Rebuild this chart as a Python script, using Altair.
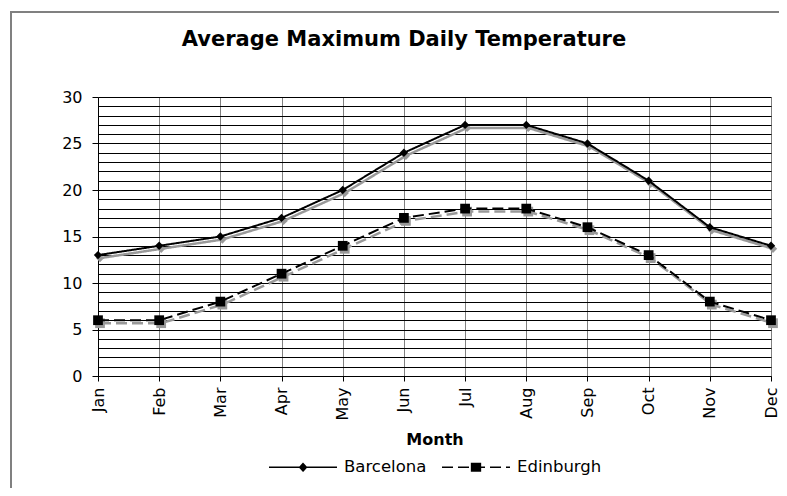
import altair as alt
import pandas as pd

months = ["Jan", "Feb", "Mar", "Apr", "May", "Jun", "Jul", "Aug", "Sep", "Oct", "Nov", "Dec"]
barcelona = [13, 14, 15, 17, 20, 24, 27, 27, 25, 21, 16, 14]
edinburgh = [6, 6, 8, 11, 14, 17, 18, 18, 16, 13, 8, 6]
cities = ["Barcelona", "Edinburgh"]
y_ticks = list(range(0, 31))
title_text = "Average Maximum Daily Temperature"

df = pd.DataFrame({
    "month": months * 2,
    "city": ["Barcelona"] * 12 + ["Edinburgh"] * 12,
    "temp": barcelona + edinburgh,
})

W, H = 673, 279
FONT = "DejaVu Sans"

x = alt.X(
    "month:N", sort=months,
    scale=alt.Scale(type="point", padding=0, domain=months),
    axis=alt.Axis(
        title="Month", titleFont=FONT, titleFontSize=16, titleFontWeight="bold",
        titleColor="black", titlePadding=11,
        labelAngle=-90, labelFont=FONT, labelFontSize=16, labelColor="black",
        labelPadding=6, tickColor="black", tickSize=5, domainColor="black",
        grid=True, gridColor="#808080", gridWidth=1,
    ),
)
y = alt.Y(
    "temp:Q",
    scale=alt.Scale(domain=[0, 30], nice=False),
    axis=alt.Axis(
        title=None, values=y_ticks,
        labelExpr="datum.value % 5 === 0 ? datum.label : ''",
        labelFont=FONT, labelFontSize=16, labelColor="black", labelPadding=10,
        tickColor="black", tickSize=6,
        tickOpacity={"condition": {"test": "datum.value % 5 === 0", "value": 1}, "value": 0},
        domainColor="black", grid=True, gridColor="black", gridWidth=1,
    ),
)

base = alt.Chart(df).encode(x=x, y=y)

specs = [("Barcelona", [1, 0], "diamond", 70), ("Edinburgh", [11, 5], "square", 95)]
shadow_layers, main_layers = [], []
for city, dash, shape, size in specs:
    d = base.transform_filter(alt.datum.city == city)
    shadow_layers.append(d.mark_line(color="#999999", strokeWidth=2.5, strokeDash=dash, xOffset=2, yOffset=3))
    shadow_layers.append(d.mark_point(shape=shape, size=size, filled=True, color="#999999", opacity=1, xOffset=2, yOffset=3))
    main_layers.append(d.mark_line(color="black", strokeWidth=2, strokeDash=dash))
    main_layers.append(d.mark_point(shape=shape, size=size, filled=True, color="black", opacity=1))

# legend symbols: line with marker in the middle (markers drawn as short strokes)
diamond_fill = "".join(
    f"M{xx},{-h}L{xx},{h}" for xx, h in [(-0.08, 0.022), (-0.04, 0.066), (0, 0.11), (0.04, 0.066), (0.08, 0.022)]
)
path_b = "M-1,0L1,0M0,-0.11L0.1,0L0,0.11L-0.1,0Z" + diamond_fill
square_fill = "".join(f"M{xx},-0.13L{xx},0.13" for xx in [-0.13, -0.09, -0.05, -0.01, 0.03, 0.07, 0.11, 0.13])
path_e = "M-1,0L1,0" + square_fill

leg = alt.Legend(
    title=None, orient="none", legendX=170, legendY=335, direction="horizontal",
    symbolSize=4624, symbolStrokeWidth=1.5, symbolStrokeColor="black", symbolOpacity=1,
    labelFont=FONT, labelFontSize=16.5, labelColor="black", labelOffset=6,
    columnPadding=12, padding=0,
)
legend_layer = alt.Chart(df).mark_point(
    filled=False, color="black", strokeWidth=1.5, opacity=1
).encode(
    x=x, y=y,
    shape=alt.Shape("city:N", scale=alt.Scale(domain=cities, range=[path_b, path_e]), legend=leg),
    strokeDash=alt.StrokeDash("city:N", scale=alt.Scale(domain=cities, range=[[1, 0], [11, 5]]), legend=leg),
).transform_filter("false")

one = pd.DataFrame({"t": [title_text]})
frame = alt.Chart(one).mark_rect(
    filled=False, color="#808080", strokeWidth=2
).encode(
    x=alt.value(-87), x2=alt.value(W + 200), y=alt.value(-85), y2=alt.value(H + 300)
)
title = alt.Chart(one).mark_text(
    font=FONT, fontSize=21, fontWeight="bold", color="black", align="center", baseline="middle"
).encode(text="t:N", x=alt.value(306), y=alt.value(-57))

chart = alt.layer(frame, title, *shadow_layers, *main_layers, legend_layer).properties(
    width=W, height=H,
    padding={"left": 90, "top": 89, "right": 8, "bottom": 112},
    autosize=alt.AutoSizeParams(type="none"),
    background="white",
).configure_view(strokeWidth=0)

chart.save("out.html", embed_options={"renderer": "svg", "actions": False})
